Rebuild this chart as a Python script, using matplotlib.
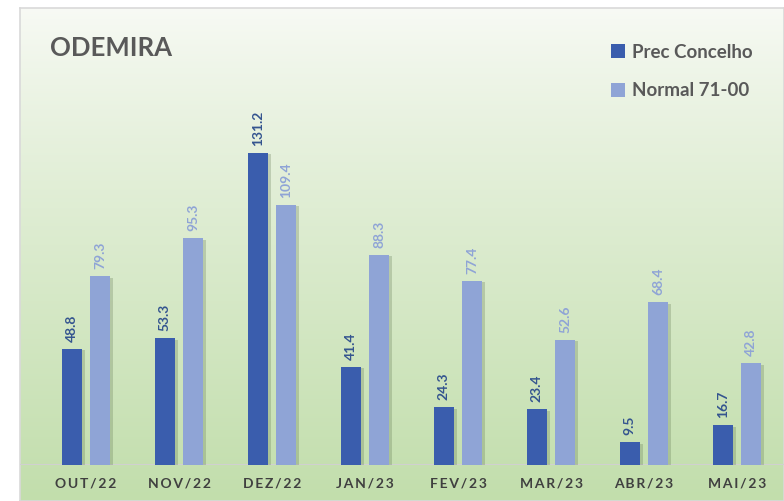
import numpy as np
import matplotlib.pyplot as plt
import matplotlib.patheffects as pe

months = ["OUT/22", "NOV/22", "DEZ/22", "JAN/23", "FEV/23", "MAR/23", "ABR/23", "MAI/23"]
prec_concelho = [48.8, 53.3, 131.2, 41.4, 24.3, 23.4, 9.5, 16.7]
normal_71_00 = [79.3, 95.3, 109.4, 88.3, 77.4, 52.6, 68.4, 42.8]

dark_blue = "#3A5DAD"
light_blue = "#8FA4D6"
dark_lbl = "#34548F"
light_lbl = "#8FA4D6"
grey_txt = "#595959"

plt.rcParams["font.family"] = ["Lato", "DejaVu Sans"]

W, H = 784, 501
fig = plt.figure(figsize=(W / 100, H / 100), dpi=100)
fig.patch.set_facecolor("white")

# gradient panel behind the chart
x0, y0 = 20, 8
bg = fig.add_axes([x0 / W, 0, 1 - x0 / W, (H - y0) / H])
top = np.array([248, 250, 245]) / 255
bot = np.array([194, 222, 172]) / 255
t = np.linspace(0, 1, 256)[:, None] ** 0.85
grad = top[None, :] * (1 - t) + bot[None, :] * t
bg.imshow(grad[:, None, :], aspect="auto", extent=[0, 1, 0, 1])
bg.set_xticks([])
bg.set_yticks([])
for s in bg.spines.values():
    s.set_color("#D9D9D9")
    s.set_linewidth(1.2)

# main chart axes
base_px = 465
px_per_unit = (465 - 153) / 131.2
ax = fig.add_axes([x0 / W, (H - base_px) / H, 1 - x0 / W, (base_px - y0) / H])
ax.set_facecolor("none")
ax.set_ylim(0, (base_px - y0) / px_per_unit)
pitch = 93
first = 86
ax.set_xlim(-(first - x0) / pitch, (W - first) / pitch)

x = np.arange(len(months))
w = 0.215
off = 0.153
shadow = [pe.SimplePatchShadow(offset=(2, -1), alpha=0.25, shadow_rgbFace="#556b45"), pe.Normal()]
b1 = ax.bar(x - off, prec_concelho, w, color=dark_blue, label="Prec Concelho", path_effects=shadow)
b2 = ax.bar(x + off, normal_71_00, w, color=light_blue, label="Normal 71-00", path_effects=shadow)

for xi, v in zip(x - off, prec_concelho):
    ax.annotate(f"{v:.1f}", (xi, v), xytext=(0, 5), textcoords="offset points",
                rotation=90, ha="center", va="bottom", fontsize=10,
                fontweight="bold", color=dark_lbl)
for xi, v in zip(x + off, normal_71_00):
    ax.annotate(f"{v:.1f}", (xi, v), xytext=(0, 5), textcoords="offset points",
                rotation=90, ha="center", va="bottom", fontsize=10,
                fontweight="bold", color=light_lbl)

ax.axhline(0, color="#D0D0D0", lw=1.5, zorder=0)
for s in ax.spines.values():
    s.set_visible(False)
ax.set_yticks([])
ax.set_xticks(x)
spaced = ["\u2009".join(m) for m in months]
ax.set_xticklabels(spaced, fontsize=10, fontweight="bold", color="#404040")
ax.tick_params(axis="x", length=0, pad=9)

fig.text(50 / W, 1 - 48 / H, "ODEMIRA", fontsize=18.5, fontweight="bold",
         color=grey_txt, ha="left", va="center")

leg = ax.legend(handles=[b1, b2], loc="upper left",
                bbox_to_anchor=(594 / W, 1 - 27 / H), bbox_transform=fig.transFigure,
                frameon=False, handlelength=0.75, handleheight=0.75,
                handletextpad=0.4, labelspacing=1.15,
                prop={"size": 13.5, "weight": "bold"})
for txt in leg.get_texts():
    txt.set_color(grey_txt)
for h in leg.legend_handles:
    h.set_path_effects([])

fig.savefig("out.png", dpi=100)
